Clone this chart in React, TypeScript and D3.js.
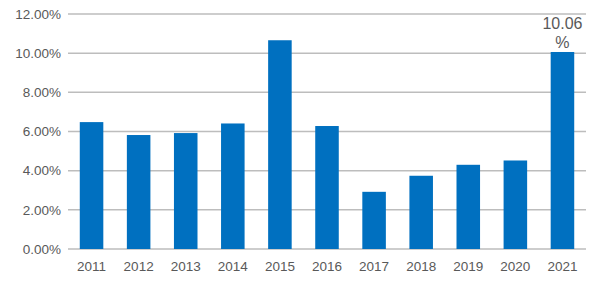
import React from "react";
import * as d3 from "d3";

const years = ["2011","2012","2013","2014","2015","2016","2017","2018","2019","2020","2021"];
const values = [6.48, 5.82, 5.92, 6.41, 10.66, 6.28, 2.92, 3.74, 4.30, 4.52, 10.06];
const yTicks = [0, 2, 4, 6, 8, 10, 12];
const labelledYear = "2021";
const labelLines = ["10.06", "%"];

const W = 600, H = 286;
const left = 68, right = 586, top = 14, bottom = 249;

export default function App() {
  const x = d3.scaleBand<string>().domain(years).range([left, right]).paddingInner(0.5).paddingOuter(0.25);
  const y = d3.scaleLinear().domain([0, 12]).range([bottom, top]);
  const font = "Liberation Sans, Arial, sans-serif";
  const textColor = "#595959";
  const li = years.indexOf(labelledYear);
  const lx = (x(labelledYear) ?? 0) + x.bandwidth() / 2;
  return (
    <svg width={W} height={H} style={{ position: "absolute", left: 0, top: 0, background: "#fff" }}>
      {yTicks.map((t) => (
        <g key={t}>
          <line x1={left} x2={right} y1={y(t)} y2={y(t)} stroke="#bdbdbd" strokeWidth={1.5} />
          <text x={61} y={y(t)} dy="0.35em" textAnchor="end" fontFamily={font} fontSize={13.5} fill={textColor}>
            {d3.format(".2f")(t) + "%"}
          </text>
        </g>
      ))}
      {years.map((yr, i) => (
        <rect key={yr} x={x(yr)} y={y(values[i])} width={x.bandwidth()} height={y(0) - y(values[i])} fill="#0070c0" />
      ))}
      {years.map((yr) => (
        <text key={yr} x={(x(yr) ?? 0) + x.bandwidth() / 2} y={271} textAnchor="middle" fontFamily={font} fontSize={13.5} fill={textColor}>
          {yr}
        </text>
      ))}
      {li >= 0 && labelLines.map((s, k) => (
        <text key={k} x={lx} y={29 + k * 19} textAnchor="middle" fontFamily={font} fontSize={16} fill={textColor}>
          {s}
        </text>
      ))}
    </svg>
  );
}
